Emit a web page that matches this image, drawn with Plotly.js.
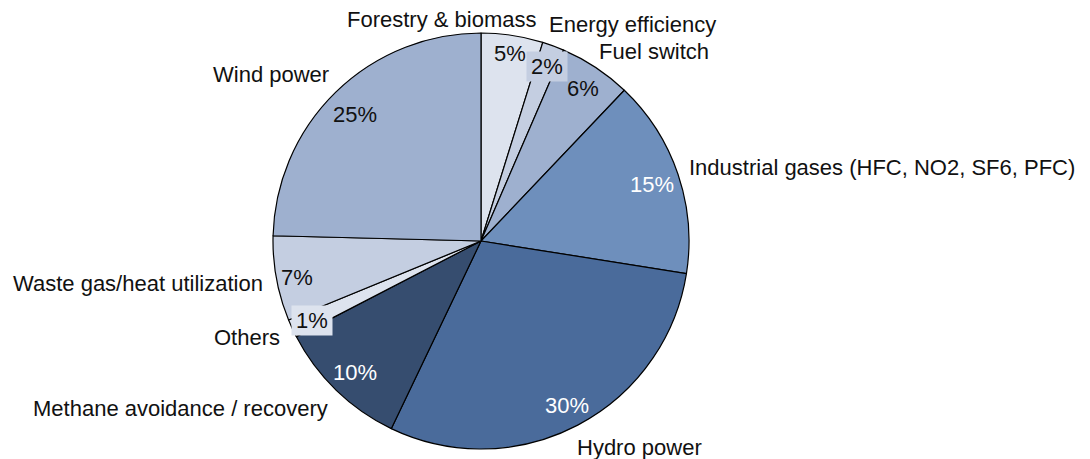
<!DOCTYPE html>
<html>
<head>
<meta charset="utf-8">
<script src="https://cdn.plot.ly/plotly-3.0.1.min.js"></script>
<style>html,body{margin:0;padding:0;background:#fff;}#chart{width:1090px;height:459px;}</style>
</head>
<body>
<div id="chart"></div>
<script>
// ---- data ----
var categories = ["Forestry & biomass", "Energy efficiency", "Fuel switch",
  "Industrial gases (HFC, NO2, SF6, PFC)", "Hydro power", "Methane avoidance / recovery",
  "Others", "Waste gas/heat utilization", "Wind power"];
var shares = [4.8, 1.7, 5.6, 15.4, 29.6, 10.3, 1.4, 6.6, 24.6];

// ---- styles ----
var sliceColors = ["#dde3ee", "#c4cee1", "#9eb0cf", "#6e8fbc", "#4a6b9b", "#364d6f",
  "#dde3ee", "#c4cee1", "#9eb0cf"];
var pctFontColors = ["#111", "#111", "#111", "#fff", "#fff", "#fff", "#111", "#111", "#111"];
var pctBoxed = [false, true, false, false, false, false, true, false, false];

// ---- label layout (pixel positions of text centres) ----
var W = 1090, H = 459;
var namePos = [[441.5, 19.5], [632.5, 24.5], [654, 52], [882, 167], [639.5, 447],
  [180, 408.5], [247, 337.5], [137.5, 283], [271, 75]];
var pctPos = [[509.5, 53.7], [546.5, 67], [583, 88], [651.5, 184.7], [567, 405],
  [355, 372], [311.5, 320.5], [296.5, 277], [354.5, 114]];
var cx = 481, cy = 241, R = 208;

var total = shares.reduce(function (a, b) { return a + b; }, 0);
var font = "Liberation Sans, Arial, Helvetica, sans-serif";
var annotations = [];
categories.forEach(function (c, i) {
  annotations.push({
    text: c, xref: "paper", yref: "paper",
    x: namePos[i][0] / W, y: 1 - namePos[i][1] / H,
    xanchor: "center", yanchor: "middle", showarrow: false,
    font: {family: font, size: 22, color: "#111"}
  });
  var a = {
    text: Math.round(shares[i] / total * 100) + "%", xref: "paper", yref: "paper",
    x: pctPos[i][0] / W, y: 1 - pctPos[i][1] / H,
    xanchor: "center", yanchor: "middle", showarrow: false,
    font: {family: font, size: 22, color: pctFontColors[i]}
  };
  if (pctBoxed[i]) { a.bgcolor = sliceColors[i]; a.borderpad = 2; a.width = 36; }
  annotations.push(a);
});

var trace = {
  type: "pie",
  labels: categories,
  values: shares,
  sort: false,
  direction: "clockwise",
  rotation: 0,
  textinfo: "none",
  hoverinfo: "label+percent",
  marker: {colors: sliceColors, line: {color: "#000", width: 1.2}},
  domain: {x: [(cx - R) / W, (cx + R) / W], y: [1 - (cy + R) / H, 1 - (cy - R) / H]},
  showlegend: false
};

Plotly.newPlot("chart", [trace], {
  width: W, height: H,
  margin: {l: 0, r: 0, t: 0, b: 0, pad: 0},
  paper_bgcolor: "#fff",
  showlegend: false,
  annotations: annotations
}, {displayModeBar: false, staticPlot: true});
</script>
</body>
</html>
